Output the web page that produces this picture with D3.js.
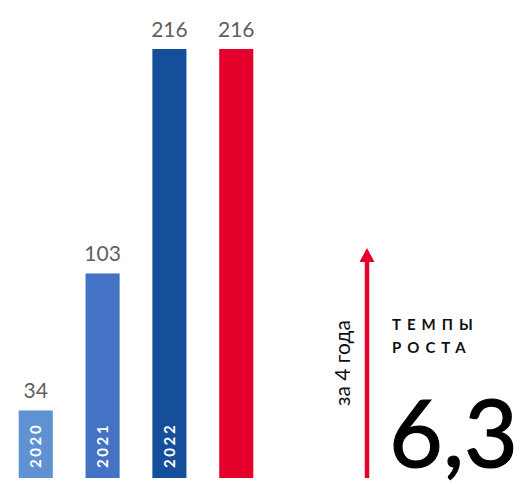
<!DOCTYPE html>
<html>
<head>
<meta charset="utf-8">
<script src="https://cdn.jsdelivr.net/npm/d3@7"></script>
<style>
  body { margin: 0; background: #fff; }
  text { font-family: Lato, "Open Sans", sans-serif; }
</style>
</head>
<body>
<div id="chart"></div>
<script>
var svgWidth = 525;
var svgHeight = 485;

// data
var categories = ["2020", "2021", "2022", "total"];
var values = [34, 103, 216, 216];
var yearLabels = ["2020", "2021", "2022", ""];
var colors = ["#5e92d2", "#4472c4", "#154f9b", "#e4002b"];
var growthRate = "6,3";

var svg = d3.select("#chart")
  .append("svg")
    .attr("width", svgWidth)
    .attr("height", svgHeight);

var xScale = d3.scaleBand()
  .domain(categories)
  .range([2, 270])
  .paddingInner(0.49)
  .paddingOuter(0.25);

var yScale = d3.scaleLinear()
  .domain([0, 216])
  .range([478, 49]);

// bars
svg.selectAll("rect.bar")
  .data(values)
  .enter()
  .append("rect")
  .attr("class", "bar")
  .attr("x", (d, i) => xScale(categories[i]))
  .attr("y", d => yScale(d))
  .attr("width", xScale.bandwidth())
  .attr("height", d => yScale(0) - yScale(d))
  .attr("fill", (d, i) => colors[i]);

// value labels
svg.selectAll("text.value")
  .data(values)
  .enter()
  .append("text")
  .attr("class", "value")
  .attr("x", (d, i) => xScale(categories[i]) + xScale.bandwidth() / 2)
  .attr("y", d => yScale(d) - 12)
  .attr("text-anchor", "middle")
  .attr("font-size", 21)
  .attr("fill", "#5f5f5f")
  .text(d => d);

// year labels inside bars
svg.selectAll("text.year")
  .data(yearLabels)
  .enter()
  .append("text")
  .attr("class", "year")
  .attr("transform", (d, i) => {
    var cx = xScale(categories[i]) + xScale.bandwidth() / 2;
    return `translate(${cx + 5.5}, ${yScale(0) - 10}) rotate(-90)`;
  })
  .attr("font-size", 15)
  .attr("font-weight", "bold")
  .attr("letter-spacing", 2.6)
  .attr("fill", "#fff")
  .text(d => d);

// growth arrow
var arrowX = 367;
svg.append("line")
  .attr("x1", arrowX)
  .attr("x2", arrowX)
  .attr("y1", yScale(0))
  .attr("y2", 258)
  .attr("stroke", "#e4002b")
  .attr("stroke-width", 4.5);

svg.append("path")
  .attr("d", `M${arrowX - 7.5},262 L${arrowX},248 L${arrowX + 7.5},262 Z`)
  .attr("fill", "#e4002b");

svg.append("text")
  .attr("transform", `translate(350, 406) rotate(-90)`)
  .attr("font-size", 21)
  .attr("fill", "#111")
  .text("за 4 года");

svg.append("text")
  .attr("x", 392)
  .attr("y", 330)
  .attr("font-size", 15)
  .attr("font-weight", "bold")
  .attr("letter-spacing", 6)
  .attr("fill", "#111")
  .text("ТЕМПЫ");

svg.append("text")
  .attr("x", 392)
  .attr("y", 353)
  .attr("font-size", 15)
  .attr("font-weight", "bold")
  .attr("letter-spacing", 6)
  .attr("fill", "#111")
  .text("РОСТА");

svg.append("text")
  .attr("x", 389)
  .attr("y", 467)
  .attr("font-size", 93)
  .attr("font-family", "'Open Sans', sans-serif")
  .attr("fill", "#000")
  .attr("stroke", "#000")
  .attr("stroke-width", 1.2)
  .text(growthRate);
</script>
</body>
</html>
